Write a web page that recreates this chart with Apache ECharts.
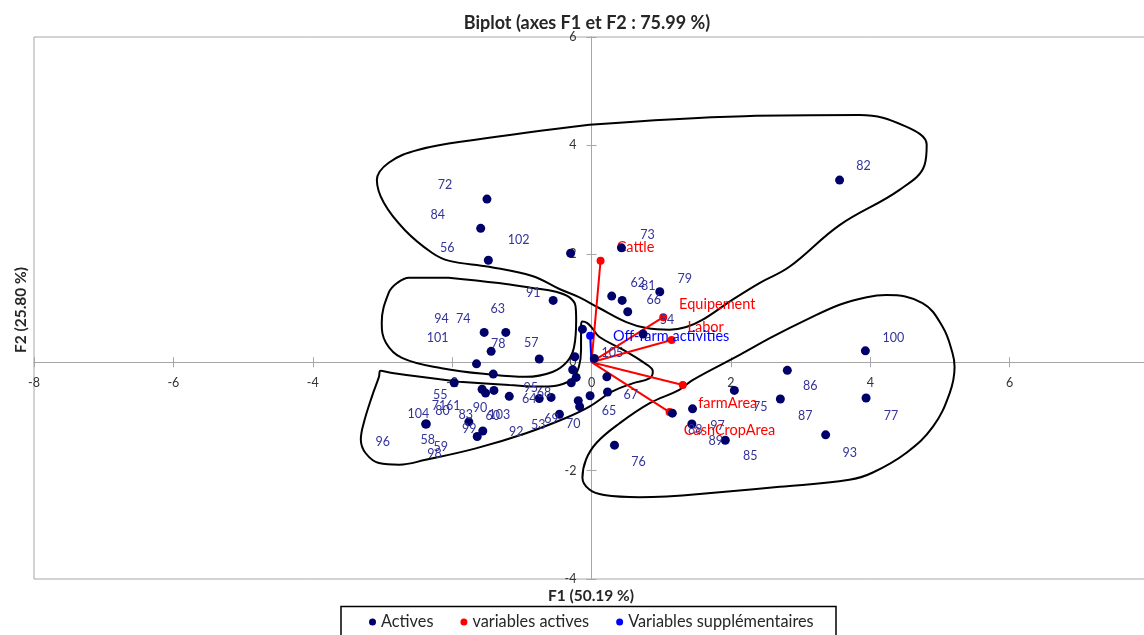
<!DOCTYPE html>
<html>
<head>
<meta charset="utf-8">
<script src="https://cdn.jsdelivr.net/npm/echarts@6/dist/echarts.min.js"></script>
<style>html,body{margin:0;padding:0;background:#fff}#c{width:1144px;height:635px}</style>
</head>
<body>
<div id="c"></div>
<script>
// ---------- data ----------
const obsIds = ['82','72','84','56','102','73','62','81','66','79','91','54','105','74','63','78','57','101','104','96','55','83','99','59','71','80','90','61','103','92','68','69','95','64','53','70','60','94','58','98','65','67','76','88','97','89','85','75','86','87','100','77','93'];
const obsF1 = [3.56,-1.50,-1.59,-1.48,-0.30,0.43,0.29,0.44,0.52,0.98,-0.55,0.74,0.04,-1.54,-1.23,-1.44,-0.75,-1.65,-2.37,-2.38,-1.97,-1.76,-1.64,-1.56,-1.57,-1.52,-1.40,-1.41,-1.18,-0.75,-0.58,-0.46,-0.27,-0.22,-0.29,-0.19,-0.17,-0.13,-0.24,0.23,-0.02,0.22,0.33,1.16,1.45,1.44,1.92,2.05,2.81,2.71,3.93,3.94,3.36];
const obsF2 = [3.36,3.01,2.47,1.88,2.01,2.11,1.22,1.14,0.93,1.30,1.14,0.52,0.07,0.55,0.55,0.20,0.06,-0.03,-1.14,-1.14,-0.38,-1.10,-1.37,-1.27,-0.50,-0.57,-0.52,-0.22,-0.63,-0.67,-0.65,-0.96,-0.14,-0.28,-0.38,-0.71,-0.82,0.61,0.10,-0.55,-0.62,-0.27,-1.53,-0.94,-0.86,-1.14,-1.44,-0.52,-0.15,-0.68,0.21,-0.66,-1.34];

const varNames = ['Cattle','Equipement','Labor','farmArea','CashCropArea'];
const varF1 = [0.13,1.03,1.15,1.31,1.12];
const varF2 = [1.87,0.83,0.41,-0.42,-0.92];

const supNames = ['Off-farm activities'];
const supF1 = [-0.02];
const supF2 = [0.49];

const xTickMin = -8, xTickMax = 8, yTickMin = -4, yTickMax = 6, tickStep = 2;

// hand-drawn group outlines (data units)
const outlineUpper = [[-0.03,4.38],[2.19,4.54],[3.85,4.56],[4.49,4.36],[4.81,4.01],[4.78,3.64],[4.42,3.18],[3.56,2.53],[2.84,1.76],[2.41,1.46],[2.02,1.15],[1.59,0.78],[1.36,0.65],[1.12,0.60],[0.79,0.63],[0.50,0.74],[0.11,1.00],[-0.18,1.20],[-0.46,1.35],[-0.85,1.59],[-1.47,1.76],[-2.04,1.87],[-2.29,2.02],[-2.68,2.44],[-2.98,2.94],[-3.08,3.36],[-2.91,3.68],[-2.48,3.92],[-1.69,4.10],[-0.03,4.38]];
const outlineMid = [[-2.05,1.56],[-1.33,1.46],[-0.85,1.37],[-0.51,1.30],[-0.32,1.20],[-0.23,1.04],[-0.22,0.78],[-0.25,0.28],[-0.35,0.01],[-0.56,-0.18],[-0.94,-0.27],[-1.43,-0.23],[-2.15,-0.11],[-2.72,0.08],[-2.95,0.36],[-3.01,0.73],[-2.91,1.28],[-2.79,1.46],[-2.62,1.56],[-2.05,1.56]];
const outlineLow = [[-1.90,-0.36],[-1.18,-0.42],[-0.70,-0.45],[-0.46,-0.42],[-0.27,-0.30],[-0.18,-0.08],[-0.15,0.23],[-0.15,0.66],[-0.13,0.75],[-0.06,0.72],[0.01,0.63],[0.11,0.47],[0.45,0.23],[0.73,0.01],[0.88,-0.17],[0.83,-0.30],[0.59,-0.39],[0.30,-0.54],[-0.03,-0.82],[-0.37,-1.03],[-0.94,-1.31],[-1.66,-1.59],[-2.38,-1.80],[-2.76,-1.89],[-3.05,-1.86],[-3.24,-1.68],[-3.31,-1.43],[-3.27,-1.13],[-3.15,-0.63],[-3.05,-0.27],[-3.03,-0.16],[-2.86,-0.20],[-1.90,-0.36]];
const outlineRight = [[1.55,-2.43],[0.69,-2.49],[0.18,-2.45],[-0.03,-2.35],[-0.13,-2.13],[-0.08,-1.80],[0.07,-1.49],[0.40,-1.13],[0.83,-0.76],[1.26,-0.51],[1.45,-0.33],[2.12,0.13],[2.60,0.47],[3.08,0.78],[3.56,1.06],[3.95,1.20],[4.23,1.24],[4.75,1.09],[5.04,0.65],[5.18,0.17],[5.21,-0.09],[5.14,-0.57],[4.90,-1.19],[4.52,-1.67],[4.03,-2.04],[3.70,-2.17],[2.70,-2.30],[1.55,-2.43]];

// ---------- label placement (styling, px) ----------
const obsLabelShift = {82:[24,-14],72:[-42,-14],84:[-43,-13],56:[-41,-12],102:[-52,-13],73:[26,-13],62:[26,-13],81:[26,-14],66:[26,-12],79:[25,-13],91:[-20,-7],54:[24,-14],105:[18,-5],74:[-21,-13],63:[-8,-23],78:[7,-7],57:[-8,-16],101:[-39,-26],104:[-8,-10],96:[-43,18],55:[-14,12],83:[-3,-7],99:[-8,-7],59:[-42,16],71:[-43,17],80:[-43,18],90:[-14,18],61:[-40,32],103:[-10,19],92:[-23,33],68:[-7,-4],69:[-8,5],95:[-42,18],64:[-47,22],53:[-33,42],70:[-5,23],60:[-87,9],94:[-141,-10],58:[-147,83],98:[-173,62],65:[19,15],67:[24,18],76:[24,17],88:[23,17],97:[25,17],89:[24,17],85:[25,16],75:[26,17],86:[23,16],87:[25,17],100:[28,-13],77:[25,18],93:[24,18]};
const varLabelShift = {'Cattle':[35,-14],'Equipement':[54,-13],'Labor':[34,-13],'farmArea':[45,18],'CashCropArea':[60,18],'Off-farm activities':[81,1]};

const FONT = 'Lato, "Noto Sans", sans-serif';
const axisColor = '#a6a6a6';
const tickText = '#333333';

const obsData = obsIds.map((id, i) => ({
  name: id, value: [obsF1[i], obsF2[i]],
  label: { offset: obsLabelShift[id] || [20, -12] }
}));
const varData = varNames.map((n, i) => ({ name: n, value: [varF1[i], varF2[i]], label: { offset: varLabelShift[n] } }));
const supData = supNames.map((n, i) => ({ name: n, value: [supF1[i], supF2[i]], label: { offset: varLabelShift[n] } }));
const spokes = (xs, ys) => { const out = []; xs.forEach((x, i) => { out.push([0, 0]); out.push([x, ys[i]]); }); return out; };

function outlineSeries(pts) {
  return { type: 'line', data: pts, smooth: 0.4, symbol: 'none', silent: true, z: 1,
    lineStyle: { color: '#000', width: 2 } };
}

const tickStyle = { show: true, length: 5, lineStyle: { color: axisColor } };
const lineStyle = { onZero: false, lineStyle: { color: axisColor } };
const baseX = { type: 'value', min: xTickMin, max: xTickMax, interval: tickStep, splitLine: { show: false }, axisLine: lineStyle, axisTick: tickStyle };
const baseY = { type: 'value', min: yTickMin, max: yTickMax, interval: tickStep, splitLine: { show: false }, axisLine: lineStyle, axisTick: tickStyle };

const chart = echarts.init(document.getElementById('c'), null, { renderer: 'canvas' });
chart.setOption({
  animation: false,
  textStyle: { fontFamily: FONT },
  grid: { left: 34, top: 37, width: 1115, height: 542, show: true, borderColor: axisColor, borderWidth: 1, containLabel: false, outerBoundsMode: 'none' },
  xAxis: [
    Object.assign({}, baseX, { position: 'bottom',
      axisLabel: { color: tickText, fontSize: 12.5, margin: 14, fontFamily: FONT, showMaxLabel: true, showMinLabel: true } }),
    Object.assign({}, baseX, { position: 'top', axisLabel: { show: false } })
  ],
  yAxis: [
    Object.assign({}, baseY, { position: 'left',
      axisLabel: { color: tickText, fontSize: 12.5, margin: 15, fontFamily: FONT, showMaxLabel: true, showMinLabel: true } }),
    Object.assign({}, baseY, { position: 'right', axisLabel: { show: false } })
  ],
  legend: {
    data: ['Actives', 'variables actives', 'Variables supplémentaires'],
    left: 369, top: 614, padding: 0, icon: 'circle', itemWidth: 7, itemHeight: 7, itemGap: 27,
    selectedMode: false,
    textStyle: { fontSize: 16.3, color: '#262626', fontFamily: FONT }
  },
  graphic: [
    { type: 'text', x: 587, y: 23, style: { text: 'Biplot (axes F1 et F2 : 75.99 %)', font: 'bold 18px ' + FONT, fill: '#262626', align: 'center', verticalAlign: 'middle' } },
    { type: 'text', x: 591, y: 596, style: { text: 'F1 (50.19 %)', font: 'bold 15.5px ' + FONT, fill: '#262626', align: 'center', verticalAlign: 'middle' } },
    { type: 'text', x: 20.5, y: 310, rotation: Math.PI / 2, style: { text: 'F2 (25.80 %)', font: 'bold 15.5px ' + FONT, fill: '#262626', align: 'center', verticalAlign: 'middle' } },
    { type: 'rect', shape: { x: 341, y: 606.5, width: 495, height: 60 }, style: { fill: 'none', stroke: '#000', lineWidth: 1.5 }, silent: true }
  ],
  series: [
    outlineSeries(outlineUpper),
    outlineSeries(outlineMid),
    outlineSeries(outlineLow),
    outlineSeries(outlineRight),
    { type: 'line', data: spokes(varF1, varF2), symbol: 'none', z: 2, lineStyle: { color: '#ff0000', width: 2 } },
    { type: 'line', data: spokes(supF1, supF2), symbol: 'none', z: 2, lineStyle: { color: '#0000ff', width: 2 } },
    { name: 'variables actives', type: 'scatter', data: varData, symbolSize: 8, z: 3,
      itemStyle: { color: '#ff0000', opacity: 1 },
      label: { show: true, position: 'inside', formatter: '{b}', color: '#ff0000', fontSize: 14.5, fontFamily: FONT } },
    { name: 'Variables supplémentaires', type: 'scatter', data: supData, symbolSize: 8, z: 3,
      itemStyle: { color: '#0000ff', opacity: 1 },
      label: { show: true, position: 'inside', formatter: '{b}', color: '#0000ff', fontSize: 14.5, fontFamily: FONT } },
    { name: 'Actives', type: 'scatter', data: obsData, symbolSize: 9, z: 4,
      itemStyle: { color: '#00006b', opacity: 1 },
      label: { show: true, position: 'inside', formatter: '{b}', color: '#333399', fontSize: 12.5, fontFamily: FONT } }
  ]
});

// move the axes so they cross at the origin, using the library's own scales
const [zx, zy] = chart.convertToPixel({ gridIndex: 0 }, [0, 0]);
const [gl, gb] = chart.convertToPixel({ gridIndex: 0 }, [xTickMin, yTickMin]);
const [gr, gt] = chart.convertToPixel({ gridIndex: 0 }, [xTickMax, yTickMax]);
chart.setOption({
  xAxis: [{ offset: -(gb - zy) }, { offset: -(zy - gt) }],
  yAxis: [{ offset: -(zx - gl) }, { offset: -(gr - zx) }]
});
</script>
</body>
</html>
